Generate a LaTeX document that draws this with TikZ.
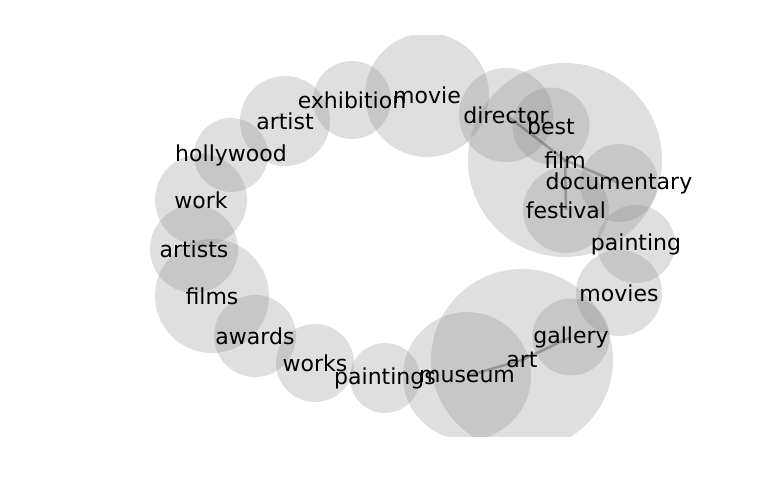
\documentclass[tikz,border=0pt]{standalone}
\usepackage{fontspec}
\setmainfont{DejaVu Sans}
\begin{document}
\begin{tikzpicture}[x=1pt,y=-1pt,
  bub/.style={circle,inner sep=0pt,draw=none,fill=black!50,fill opacity=0.25,minimum size=#1},
  lbl/.style={inner sep=0pt,font=\fontsize{22}{26}\selectfont,text=black},
  edge/.style={draw=black,draw opacity=0.25,line width=2.6pt}]
\useasboundingbox (0,0) rectangle (768,500);
\begin{scope}
\clip (96,36) rectangle (691,436);
\node[bub=124pt] (c-movie) at (427,95) {};
\node[bub=78pt] (c-exhibition) at (352,100) {};
\node[bub=90pt] (c-artist) at (285,121) {};
\node[bub=74pt] (c-hollywood) at (231,155) {};
\node[bub=92pt] (c-work) at (201,200) {};
\node[bub=88pt] (c-artists) at (194,249) {};
\node[bub=114pt] (c-films) at (212,296) {};
\node[bub=82pt] (c-awards) at (255,336) {};
\node[bub=78pt] (c-works) at (315,363) {};
\node[bub=70pt] (c-paintings) at (385,378) {};
\node[bub=128pt] (c-museum) at (467,376) {};
\node[bub=182pt] (c-art) at (522,360) {};
\node[bub=77pt] (c-gallery) at (571,337) {};
\node[bub=86pt] (c-movies) at (619,293) {};
\node[bub=78pt] (c-painting) at (636,244) {};
\node[bub=194pt] (c-film) at (565,160) {};
\node[bub=86pt] (c-festival) at (566,210) {};
\node[bub=78pt] (c-documentary) at (619,183) {};
\node[bub=77pt] (c-best) at (551,126) {};
\node[bub=94pt] (c-director) at (506,115) {};
\draw[edge] (c-director.center) -- (c-film.center);
\draw[edge] (c-film.center) -- (c-documentary.center);
\draw[edge] (c-film.center) -- (c-festival.center);
\draw[edge] (c-museum.center) -- (c-art.center);
\draw[edge] (c-art.center) -- (c-gallery.center);
\end{scope}
\foreach \n in {movie,exhibition,artist,hollywood,work,artists,films,awards,works,paintings,museum,art,gallery,movies,painting,film,festival,documentary,best,director}
  \node[lbl] (t-\n) at (c-\n.center) {\n};
\end{tikzpicture}
\end{document}
